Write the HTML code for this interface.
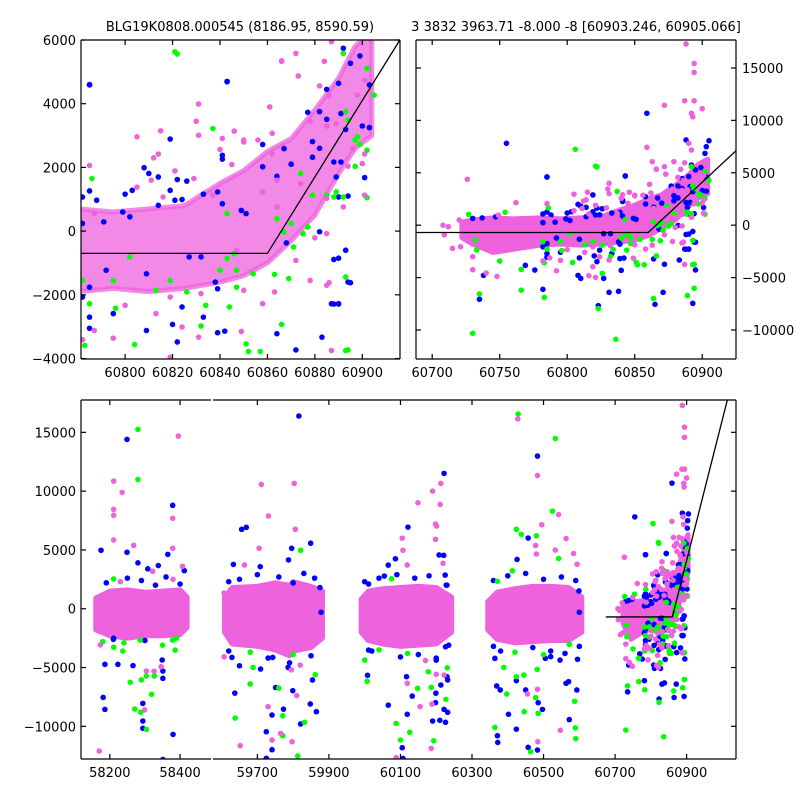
<!DOCTYPE html>
<html><head><meta charset="utf-8"><title>BLG19K0808.000545 light curve</title>
<style>
html,body{margin:0;padding:0;background:#fff;}
svg{display:block;font-family:"DejaVu Sans","Liberation Sans",sans-serif;}
</style></head>
<body>
<svg id="chart" width="800" height="800" viewBox="0 0 800 800" xmlns="http://www.w3.org/2000/svg">
<rect width="800" height="800" fill="#fff"/>
<text x="240" y="31" font-size="13" text-anchor="middle">BLG19K0808.000545 (8186.95, 8590.59)</text>
<text x="576" y="31" font-size="13" text-anchor="middle">3 3832 3963.71 -8.000 -8 [60903.246, 60905.066]</text>
</svg>
<script>
// ===== Season 5 (latest) photometry, split by colour =====
const s5BT = [60785,60843,60819,60885,60890,60892,60895,60899,60903,60891,60882,60877,60885,60903,60901,60891,60889,60893,60894,60887,60890,60888,60883,60864,60872,60839,60842,60839,60822,60809,60785,60785,60795,60820,60833,60824,60782,60785,60785,60782,60800,60808,60810,60814,60822,60826,60819,60841,60841,60858,60858,60867,60870,60879,60879,60888,60882,60893,60890,60868,60882,60864,60839,60841,60849,60851,60833,60824,60814,60821,60803,60802,60799,60791,60782,60788,60792,60809,60827,60832,60838,
 60755,60735,60738,60769,60747,60730,60737,60776,
 60785,60782,60823,60831,60838,60843,60859,60865,60871,60888,60893,60895,60890,60888,60895,60890,60894,60905,60903,60902,60900,60808,60810,60827,60840];
const s5BF = [4590,4700,2890,4450,4640,5740,5270,5500,4590,3690,3750,3730,3510,3250,1680,2170,1700,-600,-1600,-2280,-2280,-890,-3330,-3220,-3730,-1810,-3140,-3190,-3480,-3120,-3050,-2700,-2590,-2930,-2700,-2380,-2070,-1760,1260,1070,1160,1990,1810,1700,1620,1570,1280,2380,2260,2720,2020,2590,2100,2810,2320,2170,2600,3190,1070,-370,-20,1720,1230,860,650,550,1160,990,810,970,1280,450,600,290,240,970,-1230,-1340,-810,-810,-1600,
 7810,-7070,-4790,-3830,800,650,690,-4280,
 4600,-6120,-7680,-6410,-6310,4690,10680,-7550,-6410,8130,-7460,-4270,-2290,-2290,-1620,-850,1100,8060,7490,6850,3300,-4790,-5080,-5080,-4310];
const s5GT = [60821,60837,60892,60902,60905,60894,60898,60902,60902,60888,60885,60893,60869,60893,60866,60863,60847,60840,60847,60854,60852,60857,60832,60804,60783,60785,60796,60813,60826,60834,60782,60786,60874,60893,60897,60892,60889,60879,60864,60867,60871,60875,60870,60877,60843,60802,60795,60819,60843,60846,60844,
 60735,60730,60750,60766,60766,60754,60727,60732,60733,
 60783,60806,60822,60823,60836,60864,60889,60894,60894,60826,60851,60899,60897];
const s5GF = [5630,3220,5580,5110,4270,3480,2960,2540,1050,1070,1130,-1440,-1490,-3750,-2930,-1360,-1760,-1230,-1230,-1340,-3780,-3780,-2980,-3560,-3590,-2280,-2420,-1860,-1910,-2330,-1550,1650,1810,3750,2860,1070,1230,1130,390,-30,-500,-80,240,130,550,-810,-1550,-1550,-860,-710,-2380,
 -6560,-10320,-3420,-6200,-4220,1230,1030,-1410,-2370,
 -6890,7240,5560,-7960,-10890,-6990,-6720,-6020,-3730,-4600,-3540,2730,2030];
const s5PT = [60831,60830,60815,60805,60846,60831,60841,60850,60856,60862,60861,60866,60872,60873,60882,60886,60884,60887,60901,60898,60878,60885,60894,60892,60885,60878,60872,60885,60887,60858,60863,60850,60849,60831,60819,60795,60782,60787,60800,60813,60832,60819,60785,60805,60811,60814,60812,60821,60829,60840,60845,60862,60850,60889,60896,60901,60900,60885,60874,60864,60880,60864,60858,60837,60816,60787,60824,60847,
 60726,60730,60740,60748,60721,60715,60709,60712,60720,60708,60762,60749,60730,
 60859,60872,60888,60894,60894,60894,60893,60892,60900,60887,60886,60892,60890,60879,60863,60866,60901,60792,60816,60821];
const s5PF = [3990,3450,3150,2960,3140,3010,2910,2800,2860,3070,3900,5350,5580,4870,4560,4250,5330,5950,4740,4270,3450,3300,2040,760,-1700,-1550,-920,-80,-3750,-2280,-1910,-1860,-3150,-3330,-3960,-3360,-3410,-3120,-2330,-2590,-1960,-2070,2060,1380,1600,2420,2300,1890,1650,2560,2090,2420,2860,3380,2590,2420,2120,1030,1490,1600,-210,760,1230,1130,1070,550,-3010,-600,
 4380,-4250,-4570,-4890,-2060,-2210,-930,-140,490,0,2150,960,-3010,
 7430,11440,17290,15440,14580,11870,10350,10670,11120,11870,-1620,7170,7810,6060,6060,5330,1130,-4350,-4820,-4980];
// ===== Earlier seasons (bottom panel), split by colour =====
const oldBT = [58249,58379,58365,58175,58249,58412,58186,58181,58186,58223,58266,58294,58294,58294,58351,58351,58349,58380,58351,58211,58280,58308,58338,58190,58250,58290,58330,58360,58400,58300,58210,
 59816,59656,59669,59796,59849,59633,59708,59787,59629,59637,59650,59709,59725,59741,59741,59773,59751,59799,59821,59848,59865,59854,59786,59743,59725,59620,59650,59700,59760,59800,59830,59860,59875,59878,59620,59730,59790,59850,
 60121,60086,60066,60055,60011,60008,60011,60066,60105,60107,60119,60133,60117,60222,60208,60221,60228,60225,60226,60230,60232,60222,60232,60226,60210,60190,60198,60199,60213,60200,60000,60040,60090,60140,60180,60230,60020,60100,60150,60200,60235,
 60483,60457,60426,60599,60369,60379,60402,60371,60372,60424,60457,60483,60497,60485,60450,60424,60364,60505,60563,60570,60572,60593,60595,60546,60520,60360,60400,60450,60500,60550,60590,60600,60360,60380,60470,60520,60560,60600];
const oldBF = [14400,8790,4620,4970,4800,3240,-4730,-7540,-8560,-4730,-4840,-8050,-9550,-10170,-5920,-5300,-4360,-10690,-12820,-2510,3900,3390,3670,2200,2600,2400,2000,2700,2100,-2700,-2600,
 16390,6750,6920,5140,5570,3770,3580,4150,-4140,-7180,-4850,-5130,-10460,-9040,-11990,-8540,-6700,-6970,-9800,-8100,-8760,-6060,-4990,-4140,-12720,2300,2500,2900,2700,2200,3000,2600,1800,-300,-3600,-4200,-4600,-4000,
 6940,4250,3710,2780,2100,-5660,-3520,-8200,-11820,-12730,-8980,-7430,-5780,11510,4570,4540,2010,2860,-3240,-5780,-6060,-8560,-8810,-9660,-9490,-9550,-7990,-7180,-6490,-4370,2300,2600,2900,2600,2800,2000,-3600,-4100,-3900,-4200,-3100,
 12980,6010,4190,1510,-6570,-6910,-8980,-10800,-11370,-10240,-11790,-12020,-8560,-7990,-6910,-6120,-4220,-4220,-6340,-6200,-9430,-6910,-4300,-4370,-4080,2400,2800,3000,2500,2700,2400,-300,-3200,-3600,-3300,-3600,-3800,-3200];
const oldGT = [58280,58280,58258,58271,58288,58304,58327,58304,58319,58386,58379,58290,58211,58237,58286,58211,58180,58240,58350,58390,
 59821,59638,59680,59771,59771,59760,59832,59862,59813,59688,59680,59800,
 60075,60007,60000,60088,60100,60126,60148,60227,60186,60193,60231,60178,60040,60120,
 60429,60533,60525,60424,60438,60480,60542,60413,60371,60397,60364,60446,60464,60485,60478,60445,60424,60389,60589,60587,60590,60482,60572,60420,60500];
const oldGF = [15250,10990,-6260,-8530,-8810,-10260,-5720,-5720,-7280,-3520,-2670,-6060,-3280,-3600,-2670,2530,-2800,-2900,-3100,-2500,
 4970,-9300,-6400,-10800,-9100,-6750,-9660,-5610,-12520,-4990,-3700,-3900,
 2550,-6170,-4370,-9750,-11170,-10510,-6770,-7710,-6690,-11230,-5020,-5360,-3500,-3800,
 16560,14470,8300,6750,6320,6200,4270,3230,2330,-7250,-10090,-8760,-12160,-8900,-7560,-5640,-5780,-4990,-10140,-7870,-11050,-5160,-3030,-3700,-3900];
const oldPT = [58395,58211,58235,58211,58211,58211,58379,58379,58268,58407,58170,58299,58326,58346,58304,58173,58322,58230,58380,
 59711,59803,59731,59806,59705,59664,59607,59607,59652,59741,59810,59797,59730,59765,59820,59795,
 60149,60105,60107,60119,60088,60119,60155,60213,60190,60211,60198,60201,60198,60219,60188,60186,60222,60200,60170,
 60428,60483,60542,60495,60478,60563,60584,60533,60480,60594,60484,60483,60455,60547];
const oldPF = [14680,10850,9890,8440,7940,5840,7690,5140,5390,3610,-12100,-8600,-5320,-4930,-5300,-3080,3180,2300,2500,
 10570,10660,7880,6750,5140,3720,1330,-4090,-11650,-11170,-7390,-11310,-8330,-10600,-4800,-5200,
 9010,6000,4970,3720,-12670,-6340,-8330,10660,10000,8870,7200,7030,5900,3860,-8110,-11880,-5640,-5580,-4400,
 16140,11330,8010,7140,5380,5970,4690,4990,4650,3780,-11310,-6850,-7250,-10340];
// ===== Dense cores (envelope of overlapping points per time bin) =====
const coreT1 = [58160,58200,58250,58300,58350,58400,58420];
const coreLo1 = [-1800,-2300,-2500,-2300,-2300,-2200,-1600];
const coreHi1 = [900,1500,1600,1400,1500,1600,1000];
const coreT2 = [59608,59630,59700,59750,59790,59800,59850,59882];
const coreLo2 = [-2000,-3000,-3200,-3500,-4000,-3600,-3300,-2500];
const coreHi2 = [1000,1800,1900,2200,2000,2300,1900,1500];
const coreT3 = [59990,60010,60050,60100,60150,60200,60243];
const coreLo3 = [-2000,-2700,-3000,-3200,-3100,-3000,-2000];
const coreHi3 = [800,1500,1700,1800,1900,1800,1000];
const coreT4 = [60344,60370,60420,60470,60520,60570,60607];
const coreLo4 = [-1800,-2600,-2900,-2800,-2700,-2700,-2000];
const coreHi4 = [600,1400,1700,1900,1900,1800,1000];
const coreT5 = [60722,60730,60745,60760,60780,60795,60810,60825,60840,60850,60860,60870,60880,60890,60897,60904];
const coreLo5 = [-1200,-1800,-2600,-2300,-1900,-1800,-1900,-1800,-1600,-1400,-1000,-300,500,1800,2600,3000];
const coreHi5 = [300,500,700,600,700,600,700,800,1500,1900,2500,2900,3800,4800,5800,6300];
// ===== Model line parameters =====
const modelStart = 60674, modelBreak = 60860, modelBase = -700, modelSlope = 120, modelEnd = 61040;
// ===== Tick labels =====
const tlXTicks = [60800,60820,60840,60860,60880,60900];
const tlYTicks = [-4000,-2000,0,2000,4000,6000];
const trXTicks = [60700,60750,60800,60850,60900];
const trYTicks = [-10000,-5000,0,5000,10000,15000];
const b1XTicks = [58200,58400];
const b2XTicks = [59700,59900,60100,60300,60500,60700,60900];
const bYTicks = [-10000,-5000,0,5000,10000,15000];

const NS = "http://www.w3.org/2000/svg";
const svg = document.getElementById("chart");
const COL = {b:"#0000ff", g:"#00ff00", p:"#ee62de"};
function mk(tag, attrs, parent){ const e=document.createElementNS(NS,tag); for(const k in attrs) e.setAttribute(k,attrs[k]); (parent||svg).appendChild(e); return e; }
function fmt(v){ return (v<0?"\u2212":"")+Math.abs(v); }

function panel(p){
  const sx = v => p.x0 + (v-p.dx[0])/(p.dx[1]-p.dx[0])*(p.x1-p.x0);
  const sy = v => p.y1 - (v-p.dy[0])/(p.dy[1]-p.dy[0])*(p.y1-p.y0);
  const defs = mk("defs",{});
  const cp = mk("clipPath",{id:p.id+"-clip"},defs);
  mk("rect",{x:p.x0,y:p.y0,width:p.x1-p.x0,height:p.y1-p.y0},cp);
  const g = mk("g",{"clip-path":"url(#"+p.id+"-clip)"});
  
  
  const corePts = c => {
    let pts=[];
    for(let i=0;i<c[0].length;i++) pts.push(sx(c[0][i])+","+sy(c[2][i]));
    for(let i=c[0].length-1;i>=0;i--) pts.push(sx(c[0][i])+","+sy(c[1][i]));
    return pts.join(" ");
  };
  p.cores.forEach((c,ci)=>{
    const poly = mk("polygon",{points:corePts(c),fill:COL.p,"fill-opacity":p.coreOp,stroke:COL.p,"stroke-width":5,"stroke-opacity":p.coreOp,"stroke-linejoin":"round"},g);
    
    
  });
  const draw = (T,F,cc) => {
    for(let i=0;i<T.length;i++){
      const d = mk("circle",{cx:sx(T[i]),cy:sy(F[i]),r:2.8,fill:COL[cc]},g);
      
      
    }
  };
  p.sets.forEach(s=>draw(s.bt,s.bf,"b"));
  p.sets.forEach(s=>draw(s.gt,s.gf,"g"));
  p.sets.forEach(s=>draw(s.pt,s.pf,"p"));
  if(p.model){
    const ts=[modelStart,modelBreak,modelEnd];
    const pts=ts.map(t=>sx(t)+","+sy(t<=modelBreak?modelBase:modelBase+modelSlope*(t-modelBreak))).join(" ");
    const l = mk("polyline",{points:pts,fill:"none",stroke:"#000","stroke-width":1.3},g);
    
    
  }
  const sp = mk("g",{stroke:"#000","stroke-width":1.2,fill:"none"});
  
  
  mk("line",{x1:p.x0,y1:p.y0,x2:p.x1,y2:p.y0},sp);
  mk("line",{x1:p.x0,y1:p.y1,x2:p.x1,y2:p.y1},sp);
  if(p.leftSpine) mk("line",{x1:p.x0,y1:p.y0,x2:p.x0,y2:p.y1},sp);
  if(p.rightSpine) mk("line",{x1:p.x1,y1:p.y0,x2:p.x1,y2:p.y1},sp);
  p.xt.forEach(v=>{
    const x=sx(v);
    mk("line",{x1:x,y1:p.y1,x2:x,y2:p.y1-5},sp);
    mk("line",{x1:x,y1:p.y0,x2:x,y2:p.y0+5},sp);
    const t = mk("text",{x:x,y:p.y1+18,"font-size":13,"text-anchor":"middle"});
    t.textContent = fmt(v);
    
    
  });
  p.yt.forEach(v=>{
    const y=sy(v);
    if(p.leftSpine) mk("line",{x1:p.x0,y1:y,x2:p.x0+5,y2:y},sp);
    if(p.rightSpine) mk("line",{x1:p.x1,y1:y,x2:p.x1-5,y2:y},sp);
    if(p.yLabels){
      const right = p.yLabels==="right";
      const t = mk("text",{x:right?p.x1+6:p.x0-5,y:y+5,"font-size":13,"text-anchor":right?"start":"end"});
      t.textContent = fmt(v);
      
      
    }
  });
}
const S5 = {bt:s5BT,bf:s5BF,gt:s5GT,gf:s5GF,pt:s5PT,pf:s5PF};
const OLD = {bt:oldBT,bf:oldBF,gt:oldGT,gf:oldGF,pt:oldPT,pf:oldPF};
const c5 = [coreT5,coreLo5,coreHi5];
panel({id:"top-left",x0:81,x1:400,y0:40,y1:359,dx:[60781.4,60915.9],dy:[-4015,6000],cores:[c5],coreOp:0.75,sets:[S5],model:true,leftSpine:true,rightSpine:true,xt:tlXTicks,yt:tlYTicks,yLabels:"left"});
panel({id:"top-right",x0:416,x1:736,y0:40,y1:359,dx:[60688,60925],dy:[-12770,17670],cores:[c5],coreOp:1,sets:[S5],model:true,leftSpine:true,rightSpine:true,xt:trXTicks,yt:trYTicks,yLabels:"right"});
panel({id:"bottom-early",x0:81,x1:211,y0:400,y1:759,dx:[58118,58488],dy:[-12780,17750],cores:[[coreT1,coreLo1,coreHi1]],coreOp:1,sets:[OLD],model:false,leftSpine:true,rightSpine:false,xt:b1XTicks,yt:bYTicks,yLabels:"left"});
panel({id:"bottom-late",x0:213,x1:736,y0:400,y1:759,dx:[59576,61038],dy:[-12780,17750],cores:[[coreT2,coreLo2,coreHi2],[coreT3,coreLo3,coreHi3],[coreT4,coreLo4,coreHi4],c5],coreOp:1,sets:[OLD,S5],model:true,leftSpine:false,rightSpine:true,xt:b2XTicks,yt:bYTicks,yLabels:null});
</script>
</body></html>
